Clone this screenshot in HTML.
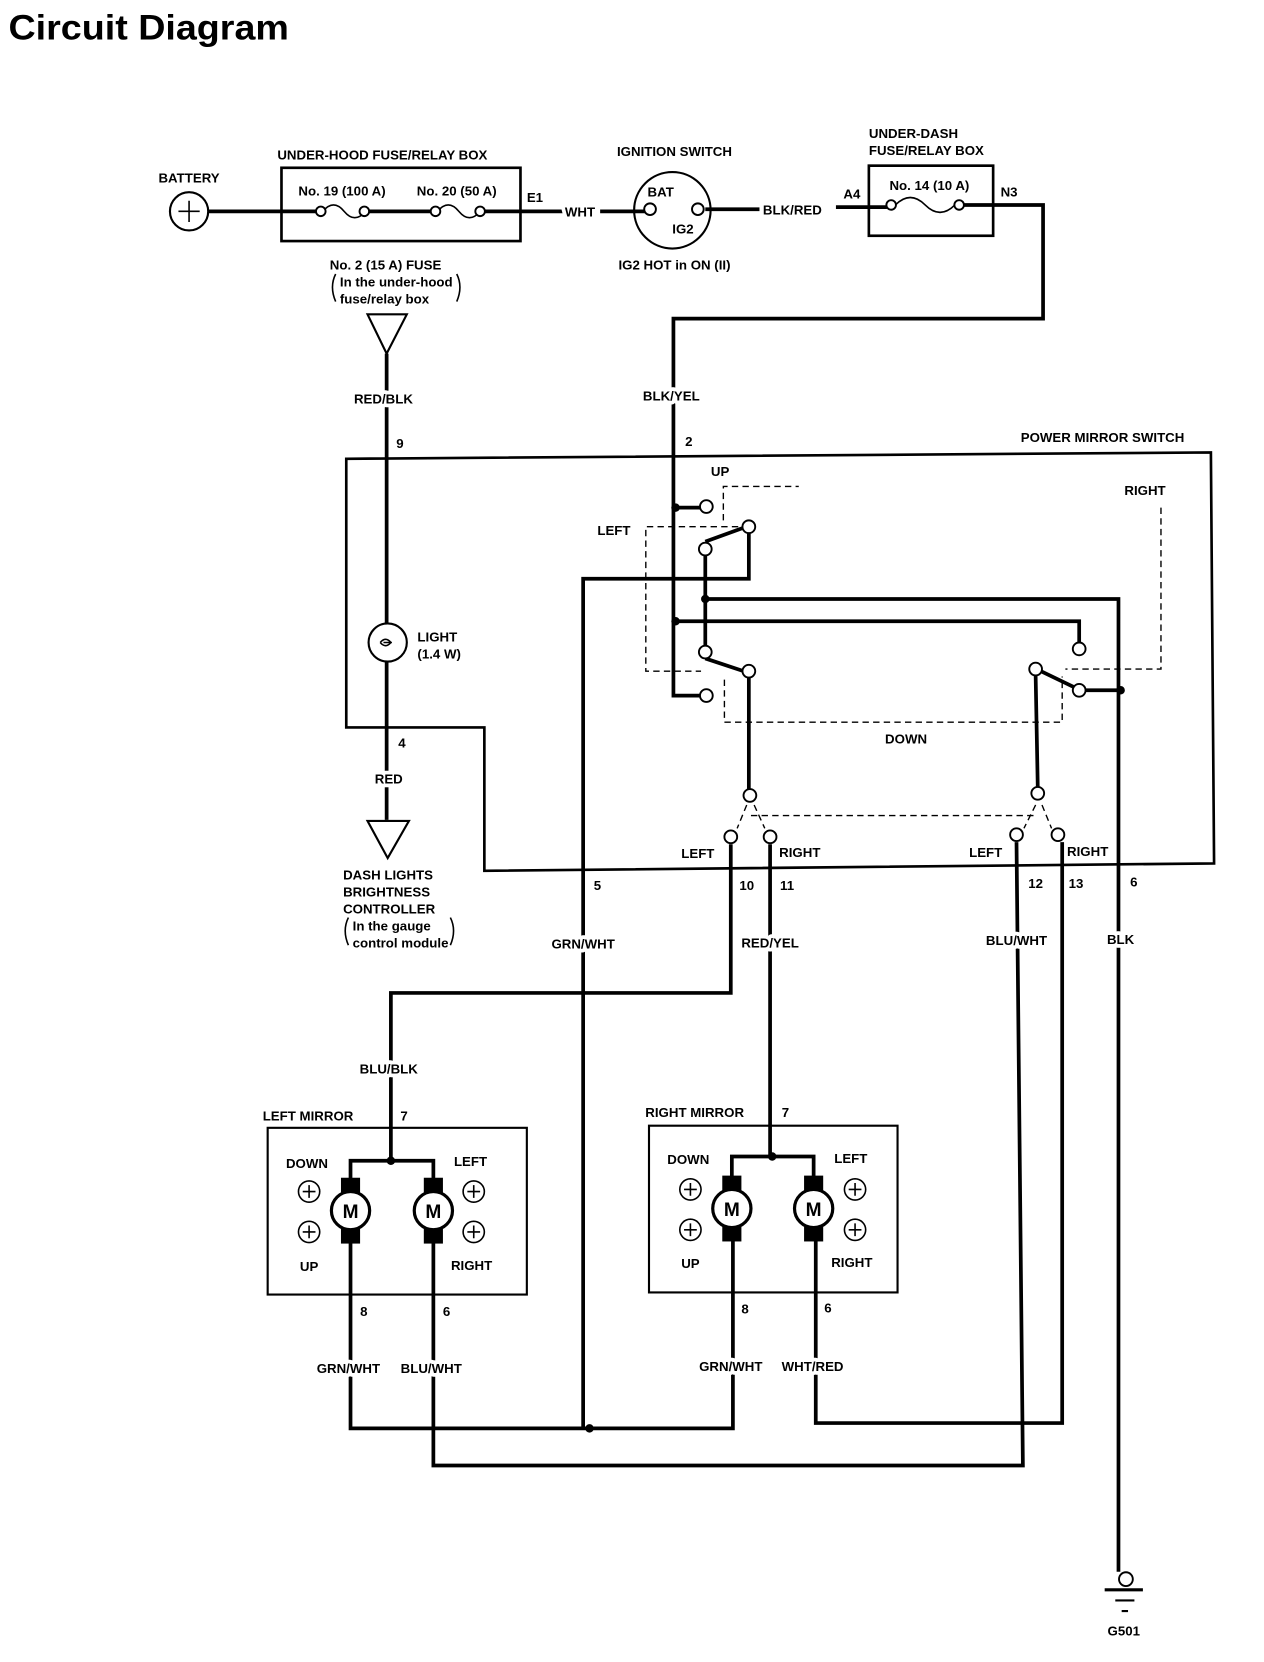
<!DOCTYPE html>
<html><head><meta charset="utf-8"><style>
html,body{margin:0;padding:0;background:#fff;}
svg{display:block;}
text{font-family:"Liberation Sans",sans-serif;font-weight:bold;font-size:12.5px;fill:#000;}
.c{text-anchor:middle;}
.w{stroke:#fff;stroke-width:7px;paint-order:stroke;stroke-linejoin:round;}
</style></head><body>
<svg width="1264" height="1662" viewBox="0 0 1190 1565" preserveAspectRatio="none" xmlns="http://www.w3.org/2000/svg">
<text x="8" y="37" style="font-size:33px" textLength="264" lengthAdjust="spacingAndGlyphs">Circuit Diagram</text>
<g fill="none" stroke="#000" stroke-width="3.5">
<circle cx="178" cy="199" r="18" stroke-width="2"/>
<path d="M168 199h20M178 189v20" stroke-width="1.5"/>
<path d="M196 199H298M347 199H408M456 199H530"/>
<rect x="265" y="158" width="225" height="69" stroke-width="2.5"/>
<path d="M304 199q10-12 20 0t20 0M412 199q10-12 20 0t20 0" stroke-width="1.5"/>
<path d="M565 199H607M664 197H715M787 195H835M907 193H982V300H634V655H660"/>
<circle cx="633" cy="198" r="36" stroke-width="2"/>
<rect x="818" y="156" width="117" height="66" stroke-width="2.5"/>
<path d="M843 193q14-14 28 0t28 0" stroke-width="1.5"/>
<path d="M346 296H383L364 333Z" stroke-width="2"/>
<path d="M364 333V587M364 623V772"/>
<circle cx="365" cy="605" r="18" stroke-width="2"/>
<path d="M346 773H385L365 808Z" stroke-width="2"/>
<path d="M326 432L1140 426L1143 813L456 820V685H326Z" stroke-width="2.5"/>
<path d="M636 478H660M664 510L700 497M705 502V545H549V1345M664 523V608M664 564H1053V1480M636 585H1016V605M664 620L700 632M705 638V743M975 636L977 741M980 632L1011 647M1021 650H1055"/>
<path d="M688 795V935H368V1093M725 795V1090M957 793L963 1380H408V1165M1000 793V1340H768V1165M330 1165V1345H690V1165" />
<rect x="252" y="1062" width="244" height="157" stroke-width="2"/>
<path d="M330 1112V1093H408V1112M689 1110V1089H766V1110"/>
<rect x="611" y="1060" width="234" height="157" stroke-width="2"/>
</g>
<g fill="none" stroke="#000" stroke-width="1.3" stroke-dasharray="6 4">
<path d="M681 490V458H752M695 496H608V632H660M682 640V680H1000V637M1093 478V630H1003"/>
<path d="M707 768H977M703 758L694 780M710 758L720 780M975 758L964 780M981 758L990 780"/>
</g>
<g fill="#fff" stroke="#000" stroke-width="1.8">
<circle cx="302" cy="199" r="4.5"/><circle cx="343" cy="199" r="4.5"/>
<circle cx="410" cy="199" r="4.5"/><circle cx="452" cy="199" r="4.5"/>
<circle cx="612" cy="197" r="5.5"/><circle cx="657" cy="197" r="5.5"/>
<circle cx="839" cy="193" r="4.5"/><circle cx="903" cy="193" r="4.5"/>
<circle cx="665" cy="477" r="6"/><circle cx="705" cy="496" r="6"/><circle cx="664" cy="517" r="6"/>
<circle cx="664" cy="614" r="6"/><circle cx="705" cy="632" r="6"/><circle cx="665" cy="655" r="6"/>
<circle cx="1016" cy="611" r="6"/><circle cx="975" cy="630" r="6"/><circle cx="1016" cy="650" r="6"/>
<circle cx="706" cy="749" r="6"/><circle cx="977" cy="747" r="6"/>
<circle cx="688" cy="788" r="6"/><circle cx="725" cy="788" r="6"/>
<circle cx="957" cy="786" r="6"/><circle cx="996" cy="786" r="6"/>
<circle cx="1060" cy="1487" r="6.5"/>
</g>
<path d="M358 605q5-6 10 0q-5 6-10 0M361 605h8" fill="none" stroke="#000" stroke-width="1.5"/>
<g fill="#000">
<circle cx="636" cy="478" r="4"/><circle cx="664" cy="564" r="4"/><circle cx="636" cy="585" r="4"/><circle cx="1055" cy="650" r="4"/>
<circle cx="368" cy="1093" r="4"/><circle cx="727" cy="1089" r="4"/><circle cx="555" cy="1345" r="4"/>
</g>
<g>
<g transform="translate(330 1140)"><rect x="-9" y="-31" width="18" height="14"/><rect x="-9" y="17" width="18" height="14"/><circle r="18" fill="#fff" stroke="#000" stroke-width="3"/><text class="c" y="7" style="font-size:18px">M</text></g>
<g transform="translate(408 1140)"><rect x="-9" y="-31" width="18" height="14"/><rect x="-9" y="17" width="18" height="14"/><circle r="18" fill="#fff" stroke="#000" stroke-width="3"/><text class="c" y="7" style="font-size:18px">M</text></g>
<g transform="translate(689 1138)"><rect x="-9" y="-31" width="18" height="14"/><rect x="-9" y="17" width="18" height="14"/><circle r="18" fill="#fff" stroke="#000" stroke-width="3"/><text class="c" y="7" style="font-size:18px">M</text></g>
<g transform="translate(766 1138)"><rect x="-9" y="-31" width="18" height="14"/><rect x="-9" y="17" width="18" height="14"/><circle r="18" fill="#fff" stroke="#000" stroke-width="3"/><text class="c" y="7" style="font-size:18px">M</text></g>
</g>
<g fill="none" stroke="#000" stroke-width="1.5">
<circle cx="291" cy="1122" r="10"/><circle cx="291" cy="1160" r="10"/><circle cx="446" cy="1122" r="10"/><circle cx="446" cy="1160" r="10"/>
<circle cx="650" cy="1120" r="10"/><circle cx="650" cy="1158" r="10"/><circle cx="805" cy="1120" r="10"/><circle cx="805" cy="1158" r="10"/>
<path d="M285 1122h12M291 1116v12M285 1160h12M291 1154v12M440 1122h12M446 1116v12M440 1160h12M446 1154v12M644 1120h12M650 1114v12M644 1158h12M650 1152v12M799 1120h12M805 1114v12M799 1158h12M805 1152v12"/>
<path d="M1040 1497H1076" stroke-width="3"/><path d="M1050 1507H1068M1056 1517H1062" stroke-width="2"/>
<path d="M316 258q-6 12 0 26M430 258q6 12 0 26M328 864q-6 12 0 26M424 864q6 12 0 26"/>
</g>
<text class="c" x="178" y="172">BATTERY</text>
<text class="c" x="360" y="150">UNDER-HOOD FUSE/RELAY BOX</text>
<text class="c" x="322" y="184">No. 19 (100 A)</text>
<text class="c" x="430" y="184">No. 20 (50 A)</text>
<text x="496" y="190">E1</text>
<text class="c w" x="546" y="204">WHT</text>
<text class="c" x="635" y="147">IGNITION SWITCH</text>
<text class="c" x="622" y="185">BAT</text>
<text class="c" x="643" y="220">IG2</text>
<text class="c" x="635" y="254">IG2 HOT in ON (II)</text>
<text class="c" x="746" y="202">BLK/RED</text>
<text x="794" y="187">A4</text>
<text x="818" y="130">UNDER-DASH</text>
<text x="818" y="146">FUSE/RELAY BOX</text>
<text class="c" x="875" y="179">No. 14 (10 A)</text>
<text x="942" y="185">N3</text>
<text class="c" x="363" y="254">No. 2 (15 A) FUSE</text>
<text x="320" y="270">In the under-hood</text>
<text x="320" y="286">fuse/relay box</text>
<text class="c w" x="361" y="380">RED/BLK</text>
<text x="373" y="422">9</text>
<text class="c w" x="632" y="377">BLK/YEL</text>
<text x="645" y="420">2</text>
<text class="c" x="1038" y="416">POWER MIRROR SWITCH</text>
<text x="393" y="604">LIGHT</text>
<text x="393" y="620">(1.4 W)</text>
<text x="375" y="704">4</text>
<text class="c w" x="366" y="738">RED</text>
<text x="323" y="828">DASH LIGHTS</text>
<text x="323" y="844">BRIGHTNESS</text>
<text x="323" y="860">CONTROLLER</text>
<text x="332" y="876">In the gauge</text>
<text x="332" y="892">control module</text>
<text class="c" x="678" y="448">UP</text>
<text class="c" x="578" y="504">LEFT</text>
<text class="c" x="1078" y="466">RIGHT</text>
<text class="c" x="853" y="700">DOWN</text>
<text class="c" x="657" y="808">LEFT</text>
<text class="c" x="753" y="807">RIGHT</text>
<text class="c" x="928" y="807">LEFT</text>
<text class="c" x="1024" y="806">RIGHT</text>
<text x="559" y="838">5</text>
<text class="c" x="703" y="838">10</text>
<text class="c" x="741" y="838">11</text>
<text class="c" x="975" y="836">12</text>
<text class="c" x="1013" y="836">13</text>
<text x="1064" y="835">6</text>
<text class="c w" x="549" y="893">GRN/WHT</text>
<text class="c w" x="725" y="892">RED/YEL</text>
<text class="c w" x="957" y="890">BLU/WHT</text>
<text class="c w" x="1055" y="889">BLK</text>
<text class="c w" x="366" y="1011">BLU/BLK</text>
<text class="c" x="290" y="1055">LEFT MIRROR</text>
<text x="377" y="1055">7</text>
<text class="c" x="289" y="1100">DOWN</text>
<text class="c" x="443" y="1098">LEFT</text>
<text class="c" x="291" y="1197">UP</text>
<text class="c" x="444" y="1196">RIGHT</text>
<text x="339" y="1239">8</text>
<text x="417" y="1239">6</text>
<text class="c w" x="328" y="1293">GRN/WHT</text>
<text class="c w" x="406" y="1293">BLU/WHT</text>
<text class="c" x="654" y="1052">RIGHT MIRROR</text>
<text x="736" y="1052">7</text>
<text class="c" x="648" y="1096">DOWN</text>
<text class="c" x="801" y="1095">LEFT</text>
<text class="c" x="650" y="1194">UP</text>
<text class="c" x="802" y="1193">RIGHT</text>
<text x="698" y="1237">8</text>
<text x="776" y="1236">6</text>
<text class="c w" x="688" y="1291">GRN/WHT</text>
<text class="c w" x="765" y="1291">WHT/RED</text>
<text class="c" x="1058" y="1540">G501</text>
</svg>
</body></html>
